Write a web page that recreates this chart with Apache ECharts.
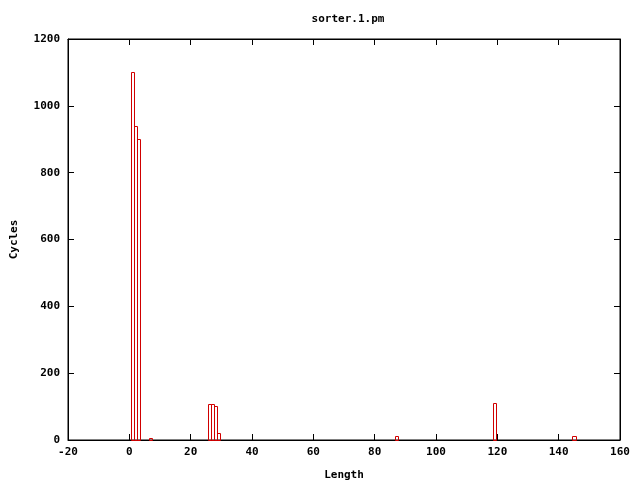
<!DOCTYPE html>
<html>
<head>
<meta charset="utf-8">
<script src="https://cdn.jsdelivr.net/npm/echarts@6/dist/echarts.min.js"></script>
<style>html,body{margin:0;padding:0;background:#fff}#c{width:640px;height:480px}</style>
</head>
<body>
<div id="c"></div>
<script>
var lengths = [1, 2, 3, 7, 26, 27, 28, 29, 87, 119, 145];
var cycles = [1100, 940, 900, 6, 108, 107, 103, 20, 12, 111, 12];
var titleText = 'sorter.1.pm';
var xName = 'Length';
var yName = 'Cycles';

var FONT = '"DejaVu Sans Mono", monospace';
var FS = 11;
var chart = echarts.init(document.getElementById('c'), null, {renderer: 'canvas'});
var data = lengths.map(function (x, i) { return [x, cycles[i]]; });
function axisCommon() {
  return {
    axisLine: {show: true, onZero: false, lineStyle: {color: '#000', width: 1}},
    axisTick: {show: true, inside: true, length: 6, lineStyle: {color: '#000'}},
    splitLine: {show: false}
  };
}
var txt = {fontFamily: FONT, fontSize: FS, fontWeight: 'bold', color: '#000'};
chart.setOption({
  animation: false,
  backgroundColor: '#fff',
  title: {
    text: titleText, left: 343, top: 9, textAlign: 'center',
    textStyle: txt
  },
  grid: {left: 68, right: 20, top: 39, bottom: 40, containLabel: false, outerBoundsMode: 'none',
         show: true, borderColor: '#000', borderWidth: 1, backgroundColor: 'transparent'},
  xAxis: [
    Object.assign(axisCommon(), {
      type: 'value', min: -20, max: 160, interval: 20, position: 'bottom',
      name: xName, nameLocation: 'middle', nameGap: 30,
      nameTextStyle: txt,
      axisLabel: Object.assign({margin: 7, formatter: function (v) { return String(v); }}, txt)
    }),
    Object.assign(axisCommon(), {
      type: 'value', min: -20, max: 160, interval: 20, position: 'top',
      axisLabel: {show: false}
    })
  ],
  yAxis: [
    Object.assign(axisCommon(), {
      type: 'value', min: 0, max: 1200, interval: 200, position: 'left',
      name: yName, nameLocation: 'middle', nameGap: 48, nameRotate: 90,
      nameTextStyle: txt,
      axisLabel: Object.assign({margin: 8, formatter: function (v) { return String(v); }}, txt)
    }),
    Object.assign(axisCommon(), {
      type: 'value', min: 0, max: 1200, interval: 200, position: 'right',
      axisLabel: {show: false}
    })
  ],
  series: [{
    type: 'custom',
    xAxisIndex: 0, yAxisIndex: 0,
    data: data,
    renderItem: function (params, api) {
      var x = api.value(0), y = api.value(1);
      var p0 = api.coord([x - 0.5, y]);
      var p1 = api.coord([x + 0.5, 0]);
      return {
        type: 'rect',
        shape: {x: Math.round(p0[0]) + 0.5, y: Math.round(p0[1]) + 0.5,
                width: Math.round(p1[0]) - Math.round(p0[0]),
                height: Math.round(p1[1]) - Math.round(p0[1])},
        style: {fill: 'none', stroke: '#d00000', lineWidth: 1}
      };
    }
  }]
});
</script>
</body>
</html>
